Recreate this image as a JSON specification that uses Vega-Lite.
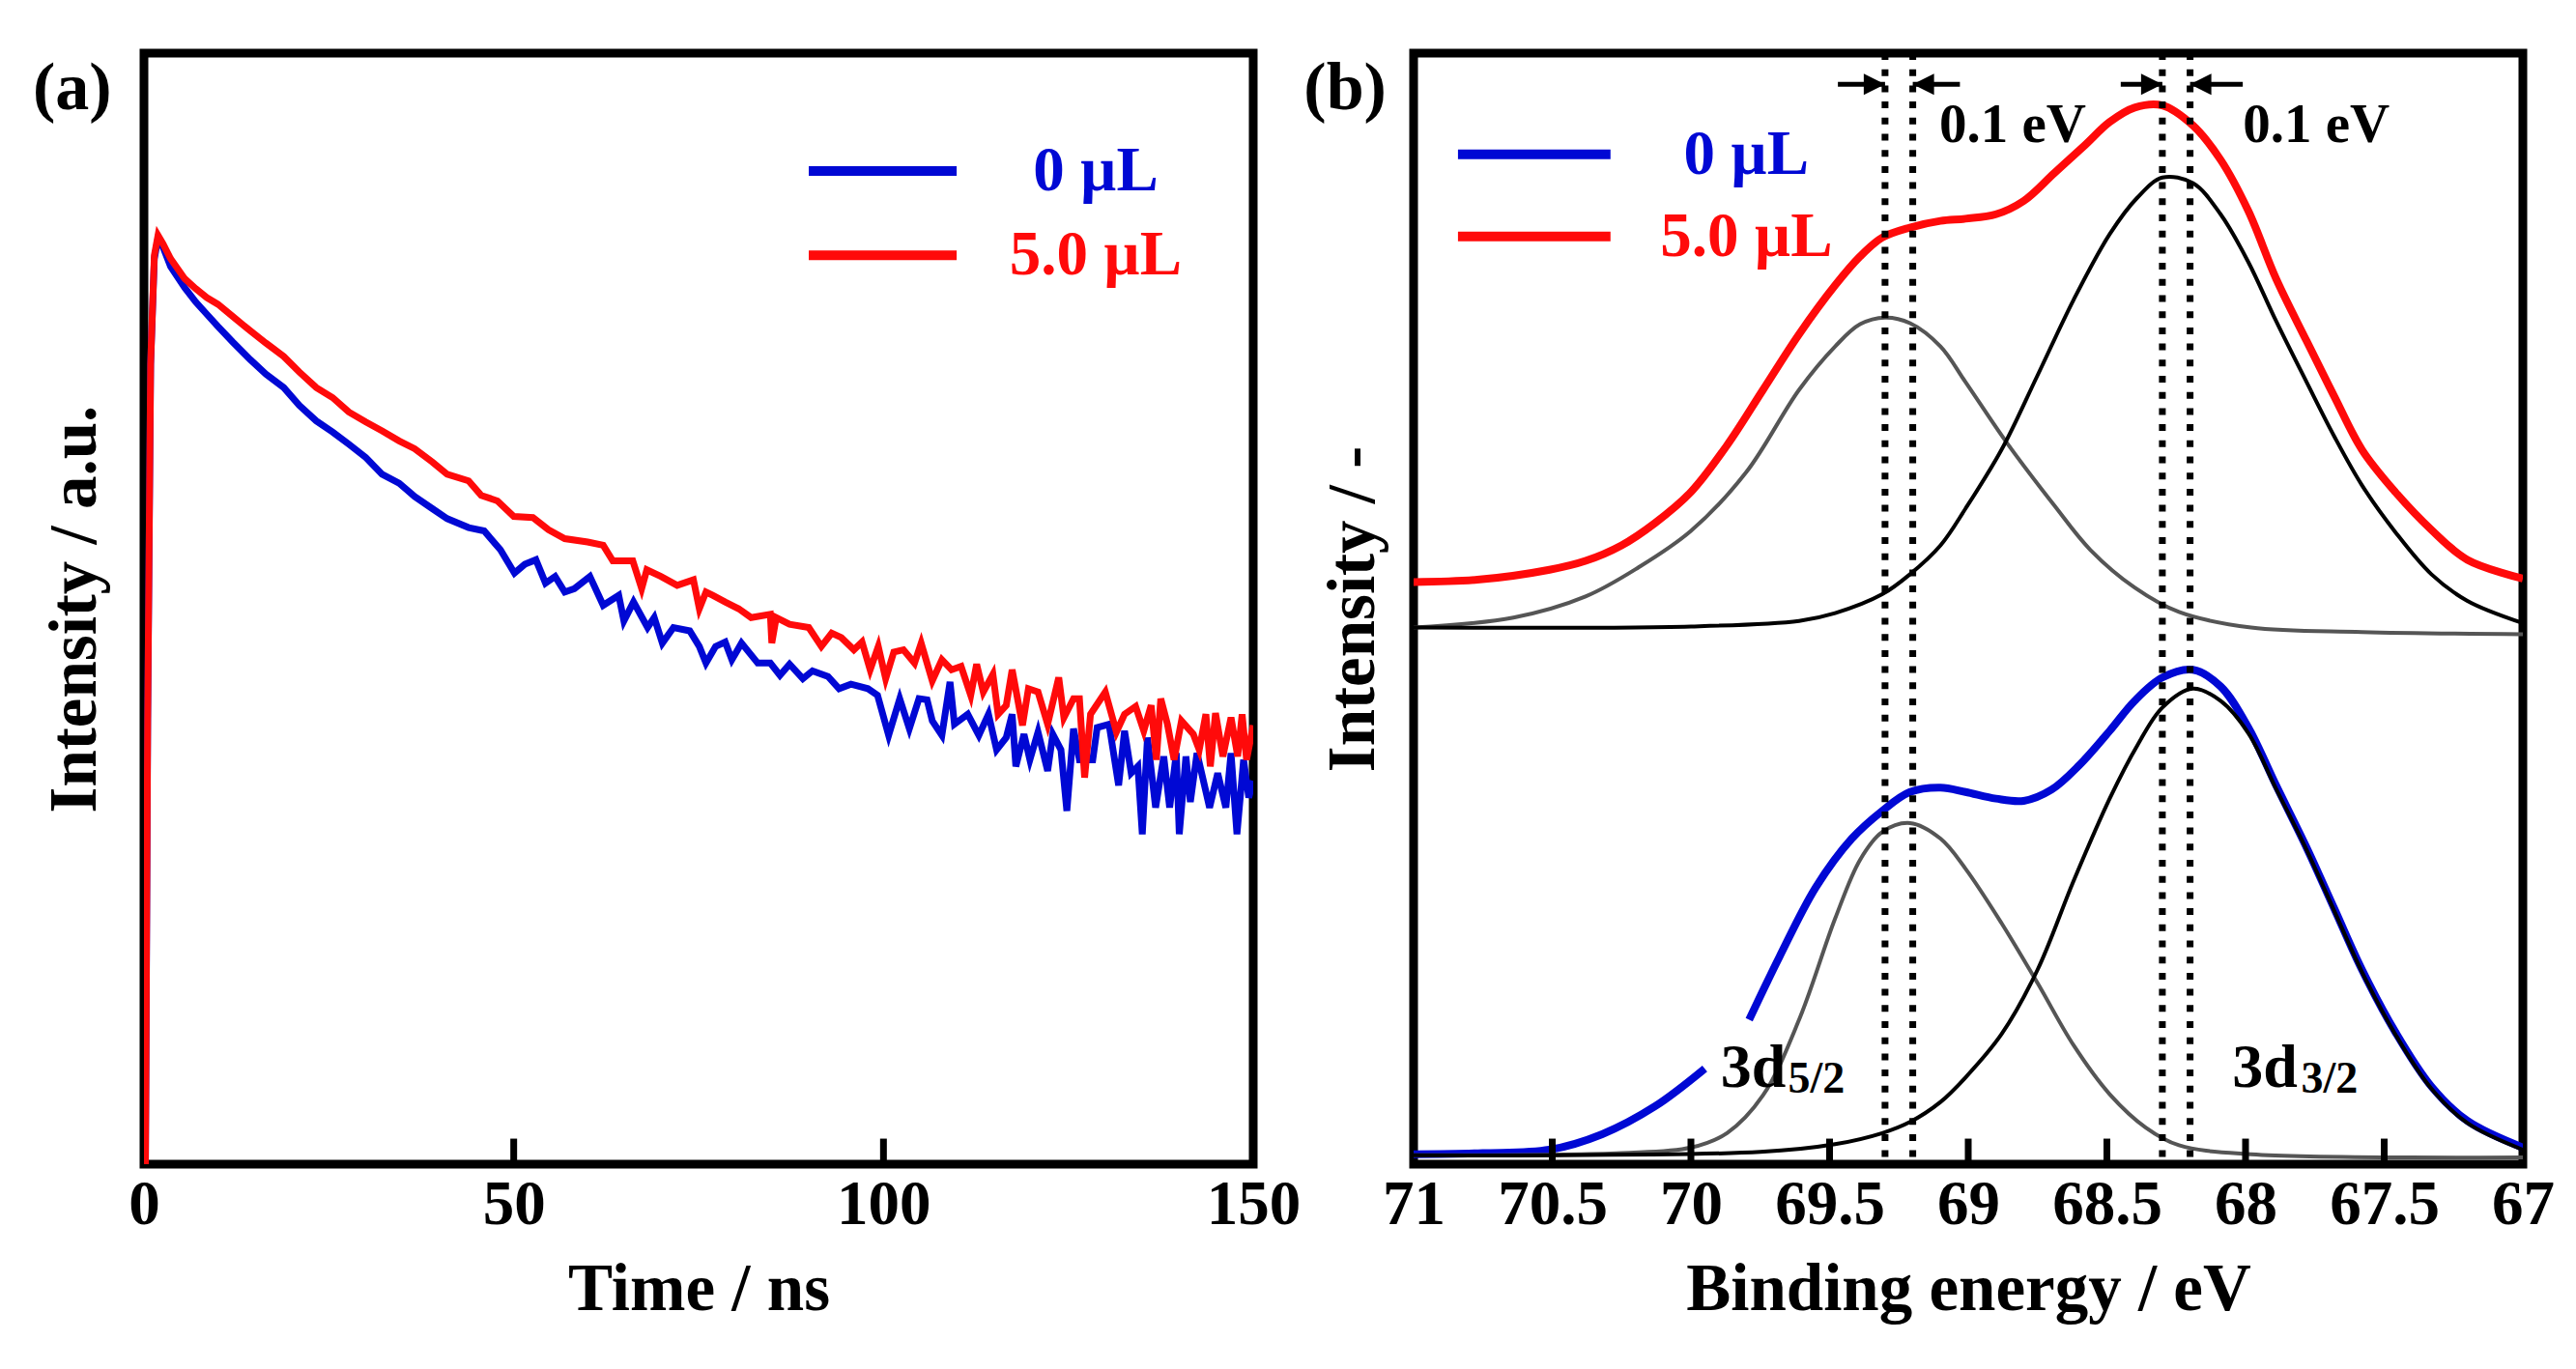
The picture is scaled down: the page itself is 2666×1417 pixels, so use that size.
{
  "$schema": "https://vega.github.io/schema/vega-lite/v6.json",
  "background": "white",
  "padding": {"left": 29, "top": 47, "right": 20, "bottom": 20},
  "spacing": 166,
  "bounds": "flush",
  "config": {
    "font": "Liberation Serif",
    "view": {"stroke": "black", "strokeWidth": 9},
    "axis": {
      "domain": false, "grid": false, "ticks": false,
      "labelFont": "Liberation Serif", "labelFontWeight": "bold", "labelFontSize": 65, "labelColor": "black",
      "titleFont": "Liberation Serif", "titleFontWeight": "bold", "titleFontSize": 69, "titleColor": "black",
      "labelFlush": false, "labelOverlap": false
    }
  },
  "datasets": {
    "decay": [
      {"s":"0 µL","t":0.2,"i":0.0},{"s":"0 µL","t":0.5,"i":0.40},{"s":"0 µL","t":0.9,"i":0.72},{"s":"0 µL","t":1.4,"i":0.815},
      {"s":"0 µL","t":1.9,"i":0.833},{"s":"0 µL","t":2.6,"i":0.825},{"s":"0 µL","t":3.6,"i":0.808},{"s":"0 µL","t":5.5,"i":0.789},
      {"s":"0 µL","t":7,"i":0.776},{"s":"0 µL","t":8.5,"i":0.765},{"s":"0 µL","t":10,"i":0.754},{"s":"0 µL","t":12,"i":0.740},
      {"s":"0 µL","t":14.4,"i":0.724},{"s":"0 µL","t":16.5,"i":0.711},{"s":"0 µL","t":18.9,"i":0.699},{"s":"0 µL","t":21,"i":0.683},
      {"s":"0 µL","t":23.3,"i":0.669},{"s":"0 µL","t":25.5,"i":0.659},{"s":"0 µL","t":27.7,"i":0.648},{"s":"0 µL","t":30,"i":0.636},
      {"s":"0 µL","t":32.2,"i":0.621},{"s":"0 µL","t":34.5,"i":0.613},{"s":"0 µL","t":36.6,"i":0.601},{"s":"0 µL","t":39,"i":0.590},
      {"s":"0 µL","t":41,"i":0.581},{"s":"0 µL","t":43.9,"i":0.573},{"s":"0 µL","t":46.0,"i":0.570},{"s":"0 µL","t":48.2,"i":0.553},
      {"s":"0 µL","t":50.1,"i":0.532},{"s":"0 µL","t":51.5,"i":0.540},{"s":"0 µL","t":53.0,"i":0.544},{"s":"0 µL","t":54.3,"i":0.523},
      {"s":"0 µL","t":55.6,"i":0.529},{"s":"0 µL","t":56.9,"i":0.515},{"s":"0 µL","t":58.2,"i":0.518},{"s":"0 µL","t":60.3,"i":0.529},
      {"s":"0 µL","t":62.1,"i":0.503},{"s":"0 µL","t":64.2,"i":0.512},{"s":"0 µL","t":64.9,"i":0.489},{"s":"0 µL","t":66.2,"i":0.506},
      {"s":"0 µL","t":68.1,"i":0.483},{"s":"0 µL","t":69.0,"i":0.492},{"s":"0 µL","t":70.1,"i":0.469},{"s":"0 µL","t":71.6,"i":0.483},
      {"s":"0 µL","t":73.8,"i":0.480},{"s":"0 µL","t":75.1,"i":0.466},{"s":"0 µL","t":76.0,"i":0.451},{"s":"0 µL","t":77.3,"i":0.466},
      {"s":"0 µL","t":78.6,"i":0.470},{"s":"0 µL","t":79.5,"i":0.454},{"s":"0 µL","t":80.8,"i":0.469},{"s":"0 µL","t":83.0,"i":0.451},
      {"s":"0 µL","t":84.7,"i":0.451},{"s":"0 µL","t":86.0,"i":0.440},{"s":"0 µL","t":87.3,"i":0.450},{"s":"0 µL","t":89.1,"i":0.437},
      {"s":"0 µL","t":90.4,"i":0.444},{"s":"0 µL","t":92.5,"i":0.439},{"s":"0 µL","t":94.0,"i":0.428},{"s":"0 µL","t":95.6,"i":0.432},
      {"s":"0 µL","t":97.9,"i":0.428},{"s":"0 µL","t":99.2,"i":0.422},{"s":"0 µL","t":100.7,"i":0.386},{"s":"0 µL","t":102.2,"i":0.419},
      {"s":"0 µL","t":103.5,"i":0.392},{"s":"0 µL","t":104.8,"i":0.419},{"s":"0 µL","t":105.9,"i":0.418},{"s":"0 µL","t":106.6,"i":0.399},
      {"s":"0 µL","t":107.9,"i":0.386},{"s":"0 µL","t":109.0,"i":0.434},{"s":"0 µL","t":109.6,"i":0.396},{"s":"0 µL","t":111.4,"i":0.405},
      {"s":"0 µL","t":112.9,"i":0.386},{"s":"0 µL","t":114.2,"i":0.405},{"s":"0 µL","t":115.3,"i":0.373},{"s":"0 µL","t":116.6,"i":0.384},
      {"s":"0 µL","t":117.4,"i":0.405},{"s":"0 µL","t":117.9,"i":0.358},{"s":"0 µL","t":119.0,"i":0.387},{"s":"0 µL","t":119.8,"i":0.364},
      {"s":"0 µL","t":120.9,"i":0.389},{"s":"0 µL","t":122.2,"i":0.354},{"s":"0 µL","t":122.9,"i":0.387},{"s":"0 µL","t":124.0,"i":0.373},
      {"s":"0 µL","t":124.8,"i":0.318},{"s":"0 µL","t":125.7,"i":0.392},{"s":"0 µL","t":126.5,"i":0.364},{"s":"0 µL","t":128.3,"i":0.364},
      {"s":"0 µL","t":128.9,"i":0.393},{"s":"0 µL","t":130.5,"i":0.396},{"s":"0 µL","t":131.8,"i":0.341},{"s":"0 µL","t":132.6,"i":0.390},
      {"s":"0 µL","t":133.5,"i":0.352},{"s":"0 µL","t":134.4,"i":0.358},{"s":"0 µL","t":135.0,"i":0.297},{"s":"0 µL","t":135.7,"i":0.384},
      {"s":"0 µL","t":136.8,"i":0.321},{"s":"0 µL","t":137.9,"i":0.367},{"s":"0 µL","t":138.7,"i":0.321},{"s":"0 µL","t":139.6,"i":0.370},
      {"s":"0 µL","t":140.0,"i":0.297},{"s":"0 µL","t":140.9,"i":0.367},{"s":"0 µL","t":141.5,"i":0.326},{"s":"0 µL","t":142.4,"i":0.370},
      {"s":"0 µL","t":144.1,"i":0.321},{"s":"0 µL","t":145.2,"i":0.352},{"s":"0 µL","t":146.3,"i":0.321},{"s":"0 µL","t":147.0,"i":0.370},
      {"s":"0 µL","t":147.8,"i":0.297},{"s":"0 µL","t":148.7,"i":0.364},{"s":"0 µL","t":149.4,"i":0.330},{"s":"0 µL","t":150,"i":0.345},
      {"s":"5.0 µL","t":0.2,"i":0.0},{"s":"5.0 µL","t":0.5,"i":0.40},{"s":"5.0 µL","t":0.9,"i":0.72},{"s":"5.0 µL","t":1.4,"i":0.818},
      {"s":"5.0 µL","t":1.9,"i":0.836},{"s":"5.0 µL","t":2.6,"i":0.828},{"s":"5.0 µL","t":3.6,"i":0.815},{"s":"5.0 µL","t":5.5,"i":0.797},
      {"s":"5.0 µL","t":7,"i":0.788},{"s":"5.0 µL","t":8.5,"i":0.780},{"s":"5.0 µL","t":10,"i":0.774},{"s":"5.0 µL","t":12,"i":0.763},
      {"s":"5.0 µL","t":14.4,"i":0.750},{"s":"5.0 µL","t":16.5,"i":0.739},{"s":"5.0 µL","t":18.9,"i":0.727},{"s":"5.0 µL","t":21,"i":0.713},
      {"s":"5.0 µL","t":23.3,"i":0.699},{"s":"5.0 µL","t":25.5,"i":0.690},{"s":"5.0 µL","t":27.7,"i":0.677},{"s":"5.0 µL","t":30,"i":0.668},
      {"s":"5.0 µL","t":32.2,"i":0.660},{"s":"5.0 µL","t":34.5,"i":0.651},{"s":"5.0 µL","t":36.6,"i":0.644},{"s":"5.0 µL","t":39,"i":0.632},
      {"s":"5.0 µL","t":41,"i":0.621},{"s":"5.0 µL","t":43.9,"i":0.615},{"s":"5.0 µL","t":45.6,"i":0.602},{"s":"5.0 µL","t":47.8,"i":0.597},
      {"s":"5.0 µL","t":50.0,"i":0.583},{"s":"5.0 µL","t":52.6,"i":0.582},{"s":"5.0 µL","t":54.7,"i":0.571},{"s":"5.0 µL","t":56.9,"i":0.563},
      {"s":"5.0 µL","t":60.0,"i":0.560},{"s":"5.0 µL","t":62.1,"i":0.557},{"s":"5.0 µL","t":63.4,"i":0.543},{"s":"5.0 µL","t":66.1,"i":0.543},
      {"s":"5.0 µL","t":67.3,"i":0.518},{"s":"5.0 µL","t":68.0,"i":0.535},{"s":"5.0 µL","t":69.9,"i":0.529},{"s":"5.0 µL","t":72.1,"i":0.521},
      {"s":"5.0 µL","t":74.3,"i":0.526},{"s":"5.0 µL","t":75.1,"i":0.500},{"s":"5.0 µL","t":76.0,"i":0.515},{"s":"5.0 µL","t":76.9,"i":0.512},
      {"s":"5.0 µL","t":78.6,"i":0.506},{"s":"5.0 µL","t":80.4,"i":0.500},{"s":"5.0 µL","t":82.1,"i":0.492},{"s":"5.0 µL","t":84.7,"i":0.495},
      {"s":"5.0 µL","t":84.9,"i":0.469},{"s":"5.0 µL","t":85.5,"i":0.492},{"s":"5.0 µL","t":87.3,"i":0.486},{"s":"5.0 µL","t":89.9,"i":0.483},
      {"s":"5.0 µL","t":91.6,"i":0.466},{"s":"5.0 µL","t":93.0,"i":0.478},{"s":"5.0 µL","t":94.3,"i":0.474},{"s":"5.0 µL","t":96.0,"i":0.463},
      {"s":"5.0 µL","t":97.1,"i":0.470},{"s":"5.0 µL","t":98.2,"i":0.445},{"s":"5.0 µL","t":99.3,"i":0.466},{"s":"5.0 µL","t":100.3,"i":0.437},
      {"s":"5.0 µL","t":101.4,"i":0.461},{"s":"5.0 µL","t":102.7,"i":0.463},{"s":"5.0 µL","t":104.2,"i":0.451},{"s":"5.0 µL","t":105.1,"i":0.469},
      {"s":"5.0 µL","t":106.6,"i":0.435},{"s":"5.0 µL","t":107.9,"i":0.454},{"s":"5.0 µL","t":109.2,"i":0.445},{"s":"5.0 µL","t":110.5,"i":0.448},
      {"s":"5.0 µL","t":111.8,"i":0.422},{"s":"5.0 µL","t":112.6,"i":0.450},{"s":"5.0 µL","t":113.5,"i":0.425},{"s":"5.0 µL","t":114.8,"i":0.441},
      {"s":"5.0 µL","t":115.5,"i":0.405},{"s":"5.0 µL","t":116.6,"i":0.413},{"s":"5.0 µL","t":117.4,"i":0.445},{"s":"5.0 µL","t":118.8,"i":0.395},
      {"s":"5.0 µL","t":119.6,"i":0.428},{"s":"5.0 µL","t":120.9,"i":0.425},{"s":"5.0 µL","t":122.2,"i":0.396},{"s":"5.0 µL","t":123.7,"i":0.438},
      {"s":"5.0 µL","t":124.4,"i":0.402},{"s":"5.0 µL","t":125.7,"i":0.419},{"s":"5.0 µL","t":126.5,"i":0.419},{"s":"5.0 µL","t":127.2,"i":0.348},
      {"s":"5.0 µL","t":128.0,"i":0.405},{"s":"5.0 µL","t":130.0,"i":0.425},{"s":"5.0 µL","t":131.5,"i":0.389},{"s":"5.0 µL","t":132.6,"i":0.405},
      {"s":"5.0 µL","t":134.1,"i":0.412},{"s":"5.0 µL","t":135.2,"i":0.390},{"s":"5.0 µL","t":136.2,"i":0.413},{"s":"5.0 µL","t":136.9,"i":0.364},
      {"s":"5.0 µL","t":137.5,"i":0.419},{"s":"5.0 µL","t":138.4,"i":0.396},{"s":"5.0 µL","t":139.3,"i":0.364},{"s":"5.0 µL","t":140.3,"i":0.399},
      {"s":"5.0 µL","t":141.9,"i":0.387},{"s":"5.0 µL","t":142.7,"i":0.373},{"s":"5.0 µL","t":143.6,"i":0.405},{"s":"5.0 µL","t":144.2,"i":0.358},
      {"s":"5.0 µL","t":144.9,"i":0.406},{"s":"5.0 µL","t":145.9,"i":0.367},{"s":"5.0 µL","t":147.0,"i":0.402},{"s":"5.0 µL","t":147.9,"i":0.367},
      {"s":"5.0 µL","t":148.5,"i":0.405},{"s":"5.0 µL","t":149.1,"i":0.364},{"s":"5.0 µL","t":150,"i":0.395}
    ],
    "legendA": [
      {"s":"0 µL","t":89.9,"t2":109.9,"i":0.894,"tx":128.7},
      {"s":"5.0 µL","t":89.9,"t2":109.9,"i":0.818,"tx":128.7}
    ],
    "ticksA": [{"t":50},{"t":100}],
    "ticksB": [{"e":70.5},{"e":70},{"e":69.5},{"e":69},{"e":68.5},{"e":68},{"e":67.5}],
    "xps": [
      {"s":"0 µL","seg":"a","e":71.0,"i":0.009},{"s":"0 µL","seg":"a","e":70.75,"i":0.010},{"s":"0 µL","seg":"a","e":70.51,"i":0.013},
      {"s":"0 µL","seg":"a","e":70.32,"i":0.027},{"s":"0 µL","seg":"a","e":70.13,"i":0.052},{"s":"0 µL","seg":"a","e":69.95,"i":0.086},
      {"s":"0 µL","seg":"b","e":69.79,"i":0.130},{"s":"0 µL","seg":"b","e":69.68,"i":0.187},{"s":"0 µL","seg":"b","e":69.55,"i":0.249},
      {"s":"0 µL","seg":"b","e":69.42,"i":0.293},{"s":"0 µL","seg":"b","e":69.31,"i":0.318},{"s":"0 µL","seg":"b","e":69.21,"i":0.335},
      {"s":"0 µL","seg":"b","e":69.10,"i":0.339},{"s":"0 µL","seg":"b","e":69.01,"i":0.335},{"s":"0 µL","seg":"b","e":68.90,"i":0.329},
      {"s":"0 µL","seg":"b","e":68.80,"i":0.327},{"s":"0 µL","seg":"b","e":68.70,"i":0.337},{"s":"0 µL","seg":"b","e":68.60,"i":0.359},
      {"s":"0 µL","seg":"b","e":68.49,"i":0.390},{"s":"0 µL","seg":"b","e":68.40,"i":0.417},{"s":"0 µL","seg":"b","e":68.30,"i":0.438},
      {"s":"0 µL","seg":"b","e":68.19,"i":0.445},{"s":"0 µL","seg":"b","e":68.09,"i":0.430},{"s":"0 µL","seg":"b","e":67.99,"i":0.393},
      {"s":"0 µL","seg":"b","e":67.89,"i":0.341},{"s":"0 µL","seg":"b","e":67.78,"i":0.285},{"s":"0 µL","seg":"b","e":67.68,"i":0.230},
      {"s":"0 µL","seg":"b","e":67.58,"i":0.175},{"s":"0 µL","seg":"b","e":67.46,"i":0.119},{"s":"0 µL","seg":"b","e":67.33,"i":0.070},
      {"s":"0 µL","seg":"b","e":67.20,"i":0.039},{"s":"0 µL","seg":"b","e":67.0,"i":0.015},
      {"s":"5.0 µL","seg":"a","e":71.0,"i":0.524},{"s":"5.0 µL","seg":"a","e":70.77,"i":0.526},{"s":"5.0 µL","seg":"a","e":70.51,"i":0.535},
      {"s":"5.0 µL","seg":"a","e":70.38,"i":0.543},{"s":"5.0 µL","seg":"a","e":70.25,"i":0.557},{"s":"5.0 µL","seg":"a","e":70.13,"i":0.577},
      {"s":"5.0 µL","seg":"a","e":70.00,"i":0.605},{"s":"5.0 µL","seg":"a","e":69.87,"i":0.647},{"s":"5.0 µL","seg":"a","e":69.74,"i":0.697},
      {"s":"5.0 µL","seg":"a","e":69.61,"i":0.747},{"s":"5.0 µL","seg":"a","e":69.48,"i":0.791},{"s":"5.0 µL","seg":"a","e":69.39,"i":0.817},
      {"s":"5.0 µL","seg":"a","e":69.31,"i":0.834},{"s":"5.0 µL","seg":"a","e":69.21,"i":0.843},{"s":"5.0 µL","seg":"a","e":69.10,"i":0.849},
      {"s":"5.0 µL","seg":"a","e":69.01,"i":0.851},{"s":"5.0 µL","seg":"a","e":68.90,"i":0.855},{"s":"5.0 µL","seg":"a","e":68.80,"i":0.867},
      {"s":"5.0 µL","seg":"a","e":68.69,"i":0.892},{"s":"5.0 µL","seg":"a","e":68.58,"i":0.917},{"s":"5.0 µL","seg":"a","e":68.49,"i":0.938},
      {"s":"5.0 µL","seg":"a","e":68.40,"i":0.951},{"s":"5.0 µL","seg":"a","e":68.30,"i":0.953},{"s":"5.0 µL","seg":"a","e":68.19,"i":0.935},
      {"s":"5.0 µL","seg":"a","e":68.09,"i":0.904},{"s":"5.0 µL","seg":"a","e":67.99,"i":0.858},{"s":"5.0 µL","seg":"a","e":67.89,"i":0.797},
      {"s":"5.0 µL","seg":"a","e":67.78,"i":0.741},{"s":"5.0 µL","seg":"a","e":67.68,"i":0.691},{"s":"5.0 µL","seg":"a","e":67.58,"i":0.643},
      {"s":"5.0 µL","seg":"a","e":67.46,"i":0.605},{"s":"5.0 µL","seg":"a","e":67.33,"i":0.571},{"s":"5.0 µL","seg":"a","e":67.20,"i":0.544},
      {"s":"5.0 µL","seg":"a","e":67.0,"i":0.527}
    ],
    "peaks": [
      {"pk":"3d5/2","s":"5.0 µL","e":71.0,"i":0.483},{"pk":"3d5/2","s":"5.0 µL","e":70.64,"i":0.492},{"pk":"3d5/2","s":"5.0 µL","e":70.38,"i":0.511},
      {"pk":"3d5/2","s":"5.0 µL","e":70.19,"i":0.537},{"pk":"3d5/2","s":"5.0 µL","e":70.00,"i":0.570},{"pk":"3d5/2","s":"5.0 µL","e":69.80,"i":0.623},
      {"pk":"3d5/2","s":"5.0 µL","e":69.61,"i":0.697},{"pk":"3d5/2","s":"5.0 µL","e":69.48,"i":0.736},{"pk":"3d5/2","s":"5.0 µL","e":69.39,"i":0.756},
      {"pk":"3d5/2","s":"5.0 µL","e":69.30,"i":0.762},{"pk":"3d5/2","s":"5.0 µL","e":69.21,"i":0.757},{"pk":"3d5/2","s":"5.0 µL","e":69.10,"i":0.736},
      {"pk":"3d5/2","s":"5.0 µL","e":69.01,"i":0.704},{"pk":"3d5/2","s":"5.0 µL","e":68.86,"i":0.649},{"pk":"3d5/2","s":"5.0 µL","e":68.69,"i":0.593},
      {"pk":"3d5/2","s":"5.0 µL","e":68.56,"i":0.553},{"pk":"3d5/2","s":"5.0 µL","e":68.40,"i":0.519},{"pk":"3d5/2","s":"5.0 µL","e":68.24,"i":0.497},
      {"pk":"3d5/2","s":"5.0 µL","e":67.98,"i":0.483},{"pk":"3d5/2","s":"5.0 µL","e":67.58,"i":0.479},{"pk":"3d5/2","s":"5.0 µL","e":67.0,"i":0.477},
      {"pk":"3d3/2","s":"5.0 µL","e":71.0,"i":0.483},{"pk":"3d3/2","s":"5.0 µL","e":70.0,"i":0.484},{"pk":"3d3/2","s":"5.0 µL","e":69.61,"i":0.489},
      {"pk":"3d3/2","s":"5.0 µL","e":69.48,"i":0.496},{"pk":"3d3/2","s":"5.0 µL","e":69.31,"i":0.513},{"pk":"3d3/2","s":"5.0 µL","e":69.21,"i":0.531},
      {"pk":"3d3/2","s":"5.0 µL","e":69.10,"i":0.557},{"pk":"3d3/2","s":"5.0 µL","e":69.01,"i":0.590},{"pk":"3d3/2","s":"5.0 µL","e":68.88,"i":0.643},
      {"pk":"3d3/2","s":"5.0 µL","e":68.75,"i":0.710},{"pk":"3d3/2","s":"5.0 µL","e":68.62,"i":0.778},{"pk":"3d3/2","s":"5.0 µL","e":68.49,"i":0.837},
      {"pk":"3d3/2","s":"5.0 µL","e":68.39,"i":0.870},{"pk":"3d3/2","s":"5.0 µL","e":68.30,"i":0.888},{"pk":"3d3/2","s":"5.0 µL","e":68.19,"i":0.883},
      {"pk":"3d3/2","s":"5.0 µL","e":68.09,"i":0.855},{"pk":"3d3/2","s":"5.0 µL","e":67.99,"i":0.812},{"pk":"3d3/2","s":"5.0 µL","e":67.89,"i":0.759},
      {"pk":"3d3/2","s":"5.0 µL","e":67.78,"i":0.704},{"pk":"3d3/2","s":"5.0 µL","e":67.68,"i":0.655},{"pk":"3d3/2","s":"5.0 µL","e":67.58,"i":0.611},
      {"pk":"3d3/2","s":"5.0 µL","e":67.46,"i":0.569},{"pk":"3d3/2","s":"5.0 µL","e":67.33,"i":0.531},{"pk":"3d3/2","s":"5.0 µL","e":67.20,"i":0.507},
      {"pk":"3d3/2","s":"5.0 µL","e":67.0,"i":0.487},
      {"pk":"3d5/2","s":"0 µL","e":71.0,"i":0.008},{"pk":"3d5/2","s":"0 µL","e":70.25,"i":0.010},{"pk":"3d5/2","s":"0 µL","e":70.0,"i":0.015},
      {"pk":"3d5/2","s":"0 µL","e":69.87,"i":0.028},{"pk":"3d5/2","s":"0 µL","e":69.74,"i":0.062},{"pk":"3d5/2","s":"0 µL","e":69.61,"i":0.130},
      {"pk":"3d5/2","s":"0 µL","e":69.48,"i":0.221},{"pk":"3d5/2","s":"0 µL","e":69.39,"i":0.274},{"pk":"3d5/2","s":"0 µL","e":69.31,"i":0.299},
      {"pk":"3d5/2","s":"0 µL","e":69.21,"i":0.307},{"pk":"3d5/2","s":"0 µL","e":69.10,"i":0.293},{"pk":"3d5/2","s":"0 µL","e":69.01,"i":0.266},
      {"pk":"3d5/2","s":"0 µL","e":68.88,"i":0.217},{"pk":"3d5/2","s":"0 µL","e":68.75,"i":0.163},{"pk":"3d5/2","s":"0 µL","e":68.62,"i":0.107},
      {"pk":"3d5/2","s":"0 µL","e":68.49,"i":0.063},{"pk":"3d5/2","s":"0 µL","e":68.36,"i":0.033},{"pk":"3d5/2","s":"0 µL","e":68.24,"i":0.017},
      {"pk":"3d5/2","s":"0 µL","e":67.98,"i":0.009},{"pk":"3d5/2","s":"0 µL","e":67.0,"i":0.006},
      {"pk":"3d3/2","s":"0 µL","e":71.0,"i":0.008},{"pk":"3d3/2","s":"0 µL","e":69.75,"i":0.011},{"pk":"3d3/2","s":"0 µL","e":69.48,"i":0.018},
      {"pk":"3d3/2","s":"0 µL","e":69.31,"i":0.028},{"pk":"3d3/2","s":"0 µL","e":69.21,"i":0.038},{"pk":"3d3/2","s":"0 µL","e":69.10,"i":0.056},
      {"pk":"3d3/2","s":"0 µL","e":69.01,"i":0.078},{"pk":"3d3/2","s":"0 µL","e":68.88,"i":0.117},{"pk":"3d3/2","s":"0 µL","e":68.75,"i":0.175},
      {"pk":"3d3/2","s":"0 µL","e":68.62,"i":0.255},{"pk":"3d3/2","s":"0 µL","e":68.49,"i":0.329},{"pk":"3d3/2","s":"0 µL","e":68.39,"i":0.377},
      {"pk":"3d3/2","s":"0 µL","e":68.30,"i":0.411},{"pk":"3d3/2","s":"0 µL","e":68.19,"i":0.428},{"pk":"3d3/2","s":"0 µL","e":68.09,"i":0.417},
      {"pk":"3d3/2","s":"0 µL","e":67.99,"i":0.388},{"pk":"3d3/2","s":"0 µL","e":67.89,"i":0.338},{"pk":"3d3/2","s":"0 µL","e":67.78,"i":0.283},
      {"pk":"3d3/2","s":"0 µL","e":67.68,"i":0.228},{"pk":"3d3/2","s":"0 µL","e":67.58,"i":0.173},{"pk":"3d3/2","s":"0 µL","e":67.46,"i":0.117},
      {"pk":"3d3/2","s":"0 µL","e":67.33,"i":0.068},{"pk":"3d3/2","s":"0 µL","e":67.20,"i":0.037},{"pk":"3d3/2","s":"0 µL","e":67.0,"i":0.013}
    ],
    "legendB": [
      {"s":"0 µL","e":70.84,"e2":70.29,"i":0.909,"tx":69.80},
      {"s":"5.0 µL","e":70.84,"e2":70.29,"i":0.835,"tx":69.80}
    ],
    "guides": [{"e":69.3},{"e":69.2},{"e":68.3},{"e":68.2}],
    "arrows": [
      {"e":69.47,"e2":69.3,"i":0.972,"dir":"r"},
      {"e":69.03,"e2":69.2,"i":0.972,"dir":"l"},
      {"e":68.45,"e2":68.3,"i":0.972,"dir":"r"},
      {"e":68.01,"e2":68.2,"i":0.972,"dir":"l"}
    ],
    "shifts": [
      {"e":68.84,"i":0.935,"label":"0.1 eV"},
      {"e":67.745,"i":0.935,"label":"0.1 eV"}
    ],
    "orbitals": [
      {"e":69.893,"es":69.65,"i":0.07,"main":"3d","sub":"5/2"},
      {"e":68.048,"es":67.80,"i":0.07,"main":"3d","sub":"3/2"}
    ]
  },
  "hconcat": [
    {
      "width": 1148,
      "height": 1150,
      "layer": [
        {
          "data": {"name": "decay"},
          "mark": {"type": "line", "strokeWidth": 7, "clip": true},
          "encoding": {
            "x": {"field": "t", "type": "quantitative",
                  "scale": {"domain": [0, 150], "nice": false, "zero": false},
                  "axis": {"values": [0, 50, 100, 150], "format": "d", "title": "Time / ns",
                           "labelPadding": 10, "titlePadding": 21}},
            "y": {"field": "i", "type": "quantitative",
                  "scale": {"domain": [0, 1], "nice": false},
                  "axis": {"title": "Intensity / a.u.", "labels": false, "titlePadding": 37}},
            "color": {"field": "s", "type": "nominal",
                      "scale": {"domain": ["0 µL", "5.0 µL"], "range": ["#0008d4", "#ff0a0a"]},
                      "legend": null}
          }
        },
        {
          "data": {"name": "ticksA"},
          "mark": {"type": "rule", "strokeWidth": 7, "color": "black"},
          "encoding": {
            "x": {"field": "t", "type": "quantitative"},
            "y": {"datum": 0, "type": "quantitative"},
            "y2": {"datum": 0.023}
          }
        },
        {
          "data": {"name": "legendA"},
          "mark": {"type": "rule", "strokeWidth": 10},
          "encoding": {
            "x": {"field": "t", "type": "quantitative"},
            "x2": {"field": "t2"},
            "y": {"field": "i", "type": "quantitative"},
            "color": {"field": "s", "type": "nominal", "legend": null}
          }
        },
        {
          "data": {"name": "legendA"},
          "mark": {"type": "text", "font": "Liberation Serif", "fontWeight": "bold", "fontSize": 65,
                   "align": "center", "baseline": "middle"},
          "encoding": {
            "x": {"field": "tx", "type": "quantitative"},
            "y": {"field": "i", "type": "quantitative"},
            "text": {"field": "s"},
            "color": {"field": "s", "type": "nominal", "legend": null}
          }
        },
        {
          "data": {"values": [{"t": -9.7, "i": 0.968, "label": "(a)"}]},
          "mark": {"type": "text", "font": "Liberation Serif", "fontWeight": "bold", "fontSize": 70,
                   "align": "center", "baseline": "middle", "color": "black"},
          "encoding": {
            "x": {"field": "t", "type": "quantitative"},
            "y": {"field": "i", "type": "quantitative"},
            "text": {"field": "label"}
          }
        }
      ]
    },
    {
      "width": 1148,
      "height": 1150,
      "layer": [
        {
          "data": {"name": "xps"},
          "mark": {"type": "line", "strokeWidth": 8, "interpolate": "catmull-rom", "clip": true},
          "encoding": {
            "x": {"field": "e", "type": "quantitative",
                  "scale": {"domain": [67, 71], "reverse": true, "nice": false, "zero": false},
                  "axis": {"values": [71, 70.5, 70, 69.5, 69, 68.5, 68, 67.5, 67], "format": "~g",
                           "title": "Binding energy / eV",
                           "labelPadding": 10, "titlePadding": 21}},
            "y": {"field": "i", "type": "quantitative",
                  "scale": {"domain": [0, 1], "nice": false},
                  "axis": {"title": "Intensity / -", "labels": false, "titlePadding": 28}},
            "color": {"field": "s", "type": "nominal",
                      "scale": {"domain": ["0 µL", "5.0 µL"], "range": ["#1010d6", "#ff0a0a"]},
                      "legend": null},
            "detail": {"field": "seg"}
          }
        },
        {
          "data": {"name": "peaks"},
          "transform": [{"filter": "datum.pk === '3d5/2'"}],
          "mark": {"type": "line", "strokeWidth": 4, "interpolate": "catmull-rom", "clip": true, "color": "#555555"},
          "encoding": {
            "x": {"field": "e", "type": "quantitative"},
            "y": {"field": "i", "type": "quantitative"},
            "detail": {"field": "s"}
          }
        },
        {
          "data": {"name": "peaks"},
          "transform": [{"filter": "datum.pk === '3d3/2'"}],
          "mark": {"type": "line", "strokeWidth": 4, "interpolate": "catmull-rom", "clip": true, "color": "black"},
          "encoding": {
            "x": {"field": "e", "type": "quantitative"},
            "y": {"field": "i", "type": "quantitative"},
            "detail": {"field": "s"}
          }
        },
        {
          "data": {"name": "ticksB"},
          "mark": {"type": "rule", "strokeWidth": 7, "color": "black"},
          "encoding": {
            "x": {"field": "e", "type": "quantitative"},
            "y": {"datum": 0, "type": "quantitative"},
            "y2": {"datum": 0.023}
          }
        },
        {
          "data": {"name": "guides"},
          "mark": {"type": "rule", "strokeWidth": 7, "strokeDash": [7, 9.7], "color": "black"},
          "encoding": {
            "x": {"field": "e", "type": "quantitative"}
          }
        },
        {
          "data": {"name": "arrows"},
          "mark": {"type": "rule", "strokeWidth": 5, "color": "black"},
          "encoding": {
            "x": {"field": "e", "type": "quantitative"},
            "x2": {"field": "e2"},
            "y": {"field": "i", "type": "quantitative"}
          }
        },
        {
          "data": {"name": "arrows"},
          "mark": {"type": "point", "filled": true, "color": "black", "opacity": 1, "size": 1936, "strokeWidth": 0},
          "encoding": {
            "x": {"field": "e2", "type": "quantitative"},
            "y": {"field": "i", "type": "quantitative"},
            "shape": {"field": "dir", "type": "nominal",
                      "scale": {"domain": ["r", "l"],
                                "range": ["M 0 0 L -1 -0.5 L -1 0.5 Z", "M 0 0 L 1 -0.5 L 1 0.5 Z"]},
                      "legend": null}
          }
        },
        {
          "data": {"name": "shifts"},
          "mark": {"type": "text", "font": "Liberation Serif", "fontWeight": "bold", "fontSize": 57,
                   "align": "center", "baseline": "middle", "color": "black"},
          "encoding": {
            "x": {"field": "e", "type": "quantitative"},
            "y": {"field": "i", "type": "quantitative"},
            "text": {"field": "label"}
          }
        },
        {
          "data": {"name": "orbitals"},
          "mark": {"type": "text", "font": "Liberation Serif", "fontWeight": "bold", "fontSize": 64,
                   "align": "left", "baseline": "alphabetic", "color": "black"},
          "encoding": {
            "x": {"field": "e", "type": "quantitative"},
            "y": {"field": "i", "type": "quantitative"},
            "text": {"field": "main"}
          }
        },
        {
          "data": {"name": "orbitals"},
          "mark": {"type": "text", "font": "Liberation Serif", "fontWeight": "bold", "fontSize": 46,
                   "align": "left", "baseline": "alphabetic", "dy": 6, "color": "black"},
          "encoding": {
            "x": {"field": "es", "type": "quantitative"},
            "y": {"field": "i", "type": "quantitative"},
            "text": {"field": "sub"}
          }
        },
        {
          "data": {"name": "legendB"},
          "mark": {"type": "rule", "strokeWidth": 10},
          "encoding": {
            "x": {"field": "e", "type": "quantitative"},
            "x2": {"field": "e2"},
            "y": {"field": "i", "type": "quantitative"},
            "color": {"field": "s", "type": "nominal", "legend": null}
          }
        },
        {
          "data": {"name": "legendB"},
          "mark": {"type": "text", "font": "Liberation Serif", "fontWeight": "bold", "fontSize": 65,
                   "align": "center", "baseline": "middle"},
          "encoding": {
            "x": {"field": "tx", "type": "quantitative"},
            "y": {"field": "i", "type": "quantitative"},
            "text": {"field": "s"},
            "color": {"field": "s", "type": "nominal", "legend": null}
          }
        },
        {
          "data": {"values": [{"e": 71.247, "i": 0.968, "label": "(b)"}]},
          "mark": {"type": "text", "font": "Liberation Serif", "fontWeight": "bold", "fontSize": 70,
                   "align": "center", "baseline": "middle", "color": "black"},
          "encoding": {
            "x": {"field": "e", "type": "quantitative"},
            "y": {"field": "i", "type": "quantitative"},
            "text": {"field": "label"}
          }
        }
      ]
    }
  ]
}
